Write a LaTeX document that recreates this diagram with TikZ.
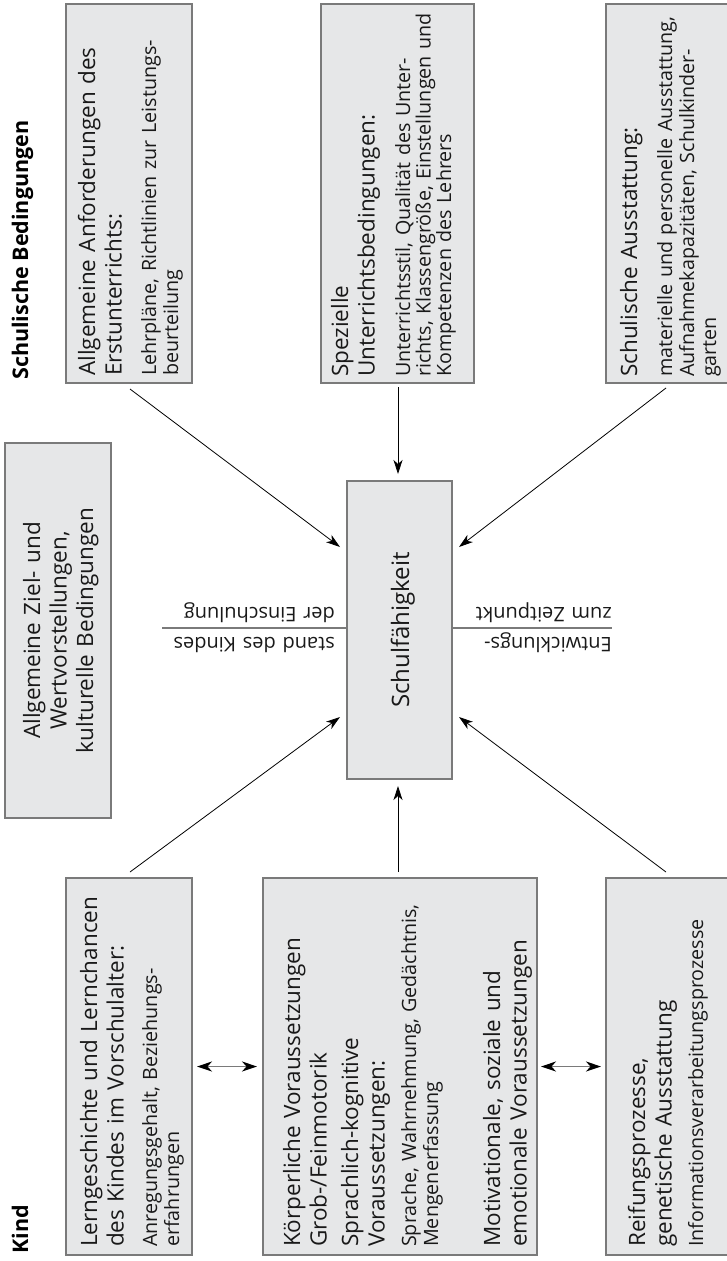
\documentclass[tikz,border=0pt]{standalone}
\usepackage{fontspec}
\setmainfont{Open Sans}
\usetikzlibrary{arrows.meta,calc}
\definecolor{boxgrau}{HTML}{E6E7E8}
\definecolor{randgrau}{HTML}{7A7A7A}
\newcommand\hauptf{\fontsize{22.5}{26.5}\selectfont}
\newcommand\unterf{\fontsize{19.7}{22}\selectfont}

\begin{document}
\begin{tikzpicture}[x=1pt,y=1pt]
\tikzstyle{every node}+=[inner sep=0pt]
\tikzstyle{kasten}=[draw=randgrau,line width=2pt,fill=boxgrau]
\tikzstyle{haupt}=[rotate=90,anchor=base west,text width=372pt,align=left,text=black!90,font=\hauptf]
\tikzstyle{unter}=[haupt,font=\unterf]
\tikzstyle{pfeil}=[black,line width=0.8pt,-{Stealth[length=14pt,width=9pt,inset=4pt]}]
\tikzstyle{doppel}=[randgrau,line width=1.3pt,{Stealth[length=15pt,width=10pt,inset=4.5pt,black]}-{Stealth[length=15pt,width=10pt,inset=4.5pt,black]}]
\tikzstyle{achse}=[randgrau,line width=1.5pt]
\tikzstyle{achstext}=[rotate=180,anchor=base west,text width=200pt,align=left,text=black!90,font=\fontsize{20}{30}\selectfont]
\useasboundingbox (0,0) rectangle (727,-1261);
\clip (0,0) rectangle (727,-1261);
\node[kasten,minimum width=126pt,minimum height=379pt] (anf) at (129,-193.5) {};
\node[kasten,minimum width=153pt,minimum height=379pt] (spez) at (397.5,-193.5) {};
\node[kasten,minimum width=144pt,minimum height=379pt] (ausst) at (678,-193.5) {};
\node[kasten,minimum width=106pt,minimum height=375pt] (werte) at (58,-630.5) {};
\node[kasten,minimum width=105pt,minimum height=298pt] (schul) at (399.5,-630) {};
\node[kasten,minimum width=126pt,minimum height=377pt] (lern) at (129,-1066.5) {};
\node[kasten,minimum width=274pt,minimum height=377pt] (koerp) at (400,-1066.5) {};
\node[kasten,minimum width=144pt,minimum height=377pt] (reif) at (678,-1066.5) {};
\node[haupt] (anf1) at (95,-376) {Allgemeine Anforderungen des\\Erstunterrichts:};
\node[unter] (anf2) at (156,-376) {Lehrpläne, Richtlinien zur Leistungs-\\beurteilung};
\node[haupt] (spez1) at (348,-377) {Spezielle\\Unterrichtsbedingungen:};
\node[unter,font=\fontsize{19.7}{20.5}\selectfont] (spez2) at (410,-377) {Unterrichtsstil, Qualität des Unter-\\richts, Klassengröße, Einstellungen und\\Kompetenzen des Lehrers};
\node[haupt] (ausst1) at (637,-377) {Schulische Ausstattung:};
\node[unter] (ausst2) at (672,-377) {materielle und personelle Ausstattung,\\Aufnahmekapazitäten, Schulkinder-\\garten};
\node[haupt,anchor=base,align=center] (werte1) at (40,-630.5) {Allgemeine Ziel- und\\Wertvorstellungen,\\kulturelle Bedingungen};
\node[rotate=90,anchor=base,text=black!90,font=\fontsize{24}{28}\selectfont] (schul1) at (409,-630) {Schulfähigkeit};
\node[haupt] (lern1) at (97,-1247) {Lerngeschichte und Lernchancen\\des Kindes im Vorschulalter:};
\node[unter] (lern2) at (157,-1247) {Anregungsgehalt, Beziehungs-\\erfahrungen};
\node[haupt] (koerp1) at (300,-1247) {Körperliche Voraussetzungen\\Grob-/Feinmotorik};
\node[haupt] (koerp2) at (358,-1247) {Sprachlich-kognitive\\Voraussetzungen:};
\node[unter] (koerp3) at (416,-1247) {Sprache, Wahrnehmung, Gedächtnis,\\Mengenerfassung};
\node[haupt] (koerp4) at (500,-1247) {Motivationale, soziale und\\emotionale Voraussetzungen};
\node[haupt] (reif1) at (645,-1247) {Reifungsprozesse,\\genetische Ausstattung};
\node[unter] (reif2) at (703,-1247) {Informationsverarbeitungsprozesse};
\node[rotate=90,anchor=base west,font=\fontsize{21.5}{26}\selectfont\bfseries] (schulb) at (28,-380) {Schulische Bedingungen};
\node[rotate=90,anchor=base west,font=\fontsize{21.5}{26}\selectfont\bfseries] (kind) at (28,-1254) {Kind};
\node[achstext] (stand) at (335,-637) {stand des Kindes\\der Einschulung};
\node[achstext] (entw) at (612,-637) {Entwicklungs-\\zum Zeitpunkt};
\coordinate (achsel) at (162,-628);
\coordinate (achser) at (612,-628);
\draw[achse] (achsel) -- (achsel -| schul.west);
\draw[achse] (schul.east |- achser) -- (achser);
\draw[pfeil] ($(anf.south)+(1,-5)$) -- ($(schul.north west)+(-6,-67)$);
\draw[pfeil] ($(spez.south)+(0.5,-3)$) -- ($(schul.north)+(-1.5,6)$);
\draw[pfeil] ($(ausst.south west)+(61,-4)$) -- ($(schul.north east)+(6,-67)$);
\draw[pfeil] ($(lern.north)+(1,5)$) -- ($(schul.south west)+(-6,63)$);
\draw[pfeil] ($(koerp.north)+(-2,5)$) -- ($(schul.south)+(-1.5,-6)$);
\draw[pfeil] ($(reif.north west)+(61,5)$) -- ($(schul.south east)+(6,63)$);
\draw[doppel] ($(lern.east)+(4,0)$) -- ($(koerp.west)+(-5,0)$);
\draw[doppel] ($(koerp.east)+(3,0)$) -- ($(reif.west)+(-4,0)$);
\end{tikzpicture}
\end{document}
